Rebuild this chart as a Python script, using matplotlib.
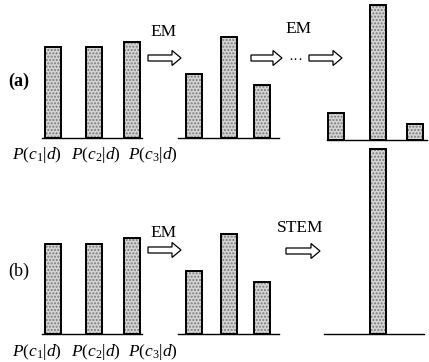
import matplotlib.pyplot as plt
import matplotlib.patches as mpatches

plt.rcParams['font.family'] = 'Liberation Serif'
plt.rcParams['mathtext.fontset'] = 'custom'
plt.rcParams['mathtext.rm'] = 'Liberation Serif'
plt.rcParams['mathtext.it'] = 'Liberation Serif:italic'
plt.rcParams['mathtext.bf'] = 'Liberation Serif:bold'

# class posteriors P(c_k|d) (bar heights, arbitrary units)
labels = [r'$P(c_1|d)$', r'$P(c_2|d)$', r'$P(c_3|d)$']
a_initial = [91, 91, 96]
a_em1 = [64, 101, 53]
a_em_final = [27, 135, 16]
b_initial = [90, 90, 96]
b_em1 = [63, 100, 52]
b_stem = [0, 185, 0]

fig = plt.figure(figsize=(4.29, 3.62), dpi=100)
ax = fig.add_axes([0, 0, 1, 1])
ax.set_xlim(0, 429)
ax.set_ylim(362, 0)
ax.axis('off')

bar_w = 16


def draw_group(xs, heights, base, line_from, line_to):
    ax.plot([line_from, line_to], [base, base], color='black', lw=1.0)
    for x, h in zip(xs, heights):
        if h <= 0:
            continue
        ax.bar(x, -h, bar_w, bottom=base, color='#d4d4d4', edgecolor='#7a7a7a',
               hatch='.....', linewidth=0)
        ax.bar(x, -h, bar_w, bottom=base, fill=False, edgecolor='black', linewidth=1.4)


def arrow(x, y, length):
    ax.add_patch(mpatches.FancyArrow(x, y, length, 0, width=6, head_width=15,
                                     head_length=9, length_includes_head=True,
                                     fc='white', ec='black', lw=0.9))


x1 = [53, 94, 132]
x2 = [193.5, 229, 262]
x3 = [336, 377.5, 415]
label_x = [37, 96, 153]

# panel (a)
draw_group(x1, a_initial, 138, 42, 142)
draw_group(x2, a_em1, 138, 178, 279)
draw_group(x3, a_em_final, 140, 327, 427)
ax.text(19, 81, '(a)', fontsize=13, fontweight='bold', ha='center', va='center')
ax.text(164, 32, 'EM', fontsize=12.5, ha='center', va='center')
arrow(148, 58, 33)
ax.text(299, 29, 'EM', fontsize=12.5, ha='center', va='center')
arrow(251, 58, 31)
ax.text(296, 60, '···', fontsize=11, ha='center', va='center')
arrow(309, 58, 33)
for x, lab in zip(label_x, labels):
    ax.text(x, 155, lab, fontsize=12.5, ha='center', va='center')

# panel (b)
draw_group(x1, b_initial, 334, 42, 142)
draw_group(x2, b_em1, 334, 178, 279)
draw_group(x3, b_stem, 334, 324, 424)
ax.text(19, 271, '(b)', fontsize=13, ha='center', va='center')
ax.text(164, 233, 'EM', fontsize=12.5, ha='center', va='center')
arrow(148, 250, 33)
ax.text(300, 228, 'STEM', fontsize=12.5, ha='center', va='center')
arrow(286, 251, 34)
for x, lab in zip(label_x, labels):
    ax.text(x, 352, lab, fontsize=12.5, ha='center', va='center')

fig.savefig('out.png', dpi=100)
